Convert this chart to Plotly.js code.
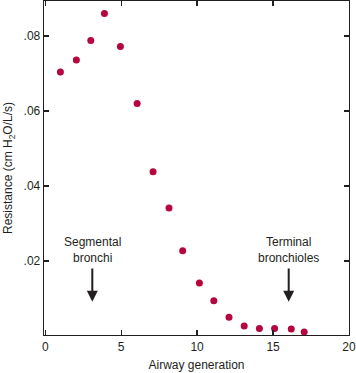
<!DOCTYPE html>
<html>
<head>
<meta charset="utf-8">
<script src="https://cdn.plot.ly/plotly-3.0.1.min.js"></script>
<style>html,body{margin:0;padding:0;background:#fff;}#chart{width:356px;height:373px;}</style>
</head>
<body>
<div id="chart"></div>
<script>
// Data
var generation = [1, 2.05, 3, 3.9, 4.95, 6.05, 7.1, 8.15, 9.05, 10.15, 11.1, 12.1, 13.1, 14.1, 15.1, 16.2, 17.05];
var resistance = [0.0704, 0.0736, 0.0788, 0.0860, 0.0772, 0.0620, 0.0438, 0.0341, 0.0227, 0.0141, 0.0094, 0.0050, 0.0027, 0.0020, 0.0020, 0.0019, 0.0011];
var xTickVals = [0, 5, 10, 15, 20];
var xTickText = ['0', '5', '10', '15', '20'];
var yTickVals = [0.02, 0.04, 0.06, 0.08];
var yTickText = ['.02', '.04', '.06', '.08'];
var labelTexts = ['Segmental<br>bronchi', 'Terminal<br>bronchioles'];
var labelX = [3.1, 16.03];
var labelY = [0.0229, 0.0229];
var arrowTipY = [0.0091, 0.0091];

var font = {family: 'Liberation Sans, Arial, sans-serif', size: 12, color: '#231f20'};

var annotations = [];
for (var i = 0; i < labelTexts.length; i++) {
  annotations.push({
    x: labelX[i], y: arrowTipY[i], xref: 'x', yref: 'y',
    ax: labelX[i], ay: labelY[i], axref: 'x', ayref: 'y',
    text: labelTexts[i], font: font, align: 'center',
    showarrow: true, arrowhead: 2, arrowsize: 1.1, arrowwidth: 2,
    arrowcolor: '#231f20', standoff: 0, startstandoff: 2
  });
}

var trace = {
  x: generation, y: resistance, type: 'scatter', mode: 'markers',
  marker: {color: '#B5053C', size: 7},
  hoverinfo: 'skip'
};

var layout = {
  width: 356, height: 373,
  margin: {l: 44, r: 7, t: 1, b: 38},
  paper_bgcolor: '#fff', plot_bgcolor: '#fff',
  showlegend: false,
  font: font,
  xaxis: {
    range: [-0.08, 20], tickvals: xTickVals, ticktext: xTickText,
    ticks: 'inside', ticklen: 5, tickwidth: 1.3, tickcolor: '#231f20',
    showline: true, linecolor: '#231f20', linewidth: 1.3, mirror: 'ticks',
    showgrid: false, zeroline: false,
    title: {text: 'Airway generation', font: font, standoff: 8},
    tickfont: font
  },
  yaxis: {
    range: [0.00027, 0.0893], tickvals: yTickVals, ticktext: yTickText,
    ticks: 'inside', ticklen: 5, tickwidth: 1.3, tickcolor: '#231f20',
    showline: true, linecolor: '#231f20', linewidth: 1.3, mirror: 'ticks',
    showgrid: false, zeroline: false,
    title: {text: 'Resistance (cm H<sub>2</sub>O/L/s)', font: font, standoff: 8},
    tickfont: font
  },
  annotations: annotations
};

Plotly.newPlot('chart', [trace], layout, {staticPlot: true, displayModeBar: false});
</script>
</body>
</html>
